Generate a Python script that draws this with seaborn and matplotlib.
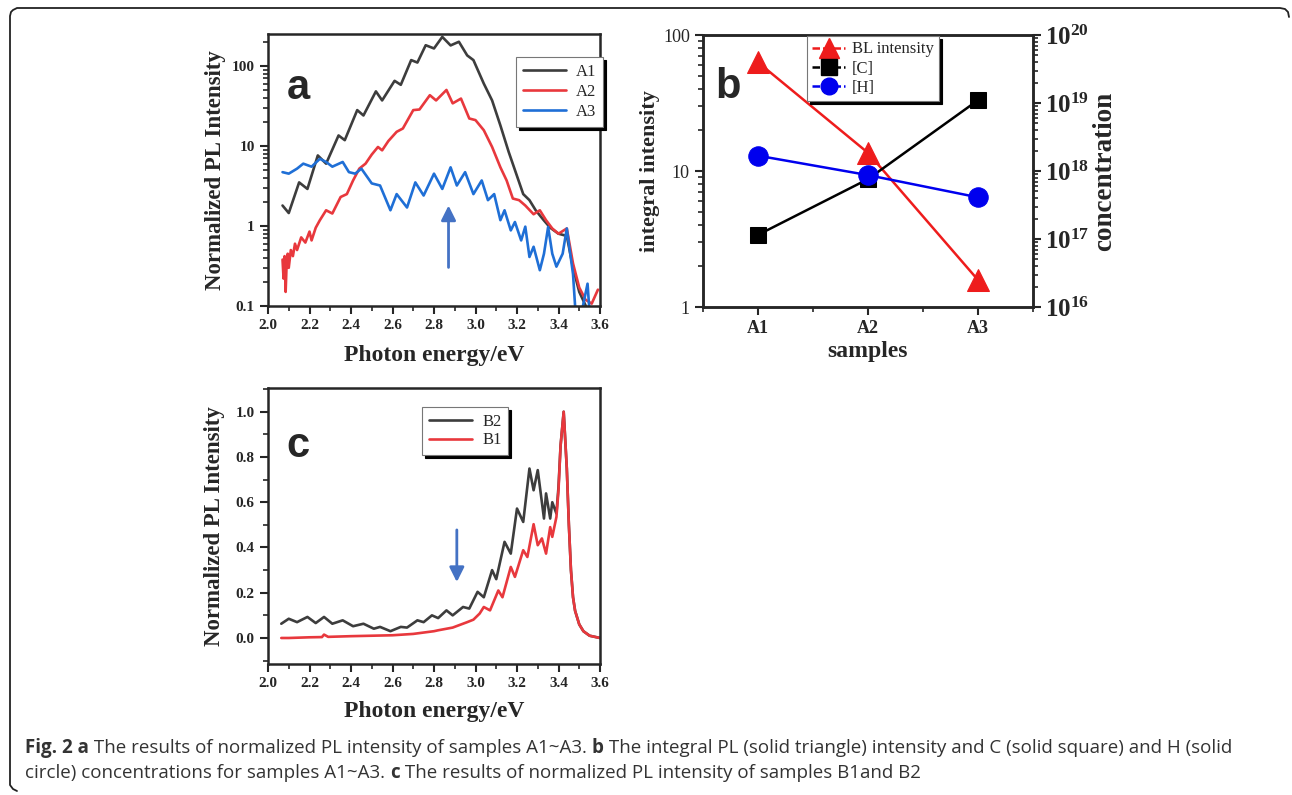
import matplotlib
matplotlib.use('Agg')
import numpy as np
import matplotlib.pyplot as plt
import seaborn as sns
from matplotlib.lines import Line2D
from matplotlib.ticker import MultipleLocator, LogLocator, NullFormatter

# ---- data ----
# panel a: normalized PL intensity (log scale)
a_e1 = [2.07, 2.10, 2.15, 2.19, 2.24, 2.28, 2.34, 2.37, 2.43, 2.46, 2.52, 2.55, 2.61, 2.64, 2.69, 2.72,
        2.76, 2.80, 2.84, 2.88, 2.92, 2.96, 2.99, 3.04, 3.08, 3.12, 3.16, 3.19, 3.23, 3.26, 3.29, 3.33,
        3.36, 3.40, 3.44, 3.47, 3.50, 3.54]
a_a1 = [1.8, 1.45, 3.5, 2.9, 7.6, 6.0, 13.5, 11.8, 28, 24, 48, 37, 65, 58, 118, 110,
        181, 165, 230, 180, 200, 135, 118, 60, 37, 18, 8.4, 5.0, 2.5, 2.1, 1.57, 1.17,
        0.95, 0.8, 0.75, 0.3, 0.15, 0.09]

a_e2 = [2.07, 2.075, 2.08, 2.085, 2.09, 2.095, 2.10, 2.11, 2.12, 2.13, 2.14, 2.16, 2.18, 2.20, 2.21,
        2.23, 2.25, 2.28, 2.31, 2.35, 2.38, 2.41, 2.44, 2.47, 2.50, 2.53, 2.55, 2.58, 2.62, 2.65,
        2.70, 2.73, 2.78, 2.81, 2.86, 2.89, 2.93, 2.97, 3.00, 3.04, 3.08, 3.12, 3.15, 3.18, 3.21,
        3.24, 3.28, 3.31, 3.34, 3.37, 3.40, 3.44, 3.47, 3.50, 3.53, 3.56, 3.59]
a_a2 = [0.38, 0.22, 0.42, 0.15, 0.35, 0.45, 0.3, 0.5, 0.42, 0.6, 0.5, 0.72, 0.62, 0.85, 0.66,
        0.95, 1.18, 1.57, 1.43, 2.3, 2.5, 3.7, 5.2, 6.0, 7.8, 9.7, 8.8, 11.5, 15, 16.5,
        28, 28.5, 43, 37, 50, 34, 39, 22, 21, 15.7, 9.7, 5.4, 3.7, 2.2, 2.1,
        1.8, 1.4, 1.57, 1.18, 0.93, 0.8, 0.93, 0.34, 0.17, 0.12, 0.107, 0.16]

a_e3 = [2.07, 2.10, 2.14, 2.17, 2.21, 2.25, 2.28, 2.31, 2.36, 2.39, 2.42, 2.45, 2.50, 2.54, 2.59,
        2.62, 2.67, 2.71, 2.75, 2.80, 2.84, 2.88, 2.91, 2.95, 2.99, 3.03, 3.06, 3.09, 3.12, 3.14,
        3.17, 3.19, 3.22, 3.24, 3.26, 3.28, 3.31, 3.33, 3.35, 3.37, 3.39, 3.42, 3.44, 3.47, 3.48,
        3.51, 3.54, 3.55]
a_a3 = [4.7, 4.5, 5.2, 6.0, 5.5, 6.9, 6.3, 5.5, 6.3, 4.7, 4.5, 5.2, 3.4, 3.2, 1.57,
        2.5, 1.7, 3.5, 2.4, 4.5, 2.9, 5.4, 3.2, 4.7, 2.5, 3.7, 2.1, 2.5, 1.18, 1.57,
        0.88, 1.12, 0.66, 0.98, 0.41, 0.55, 0.28, 0.45, 0.97, 0.45, 0.31, 0.45, 0.93, 0.25, 0.1,
        0.08, 0.19, 0.08]

# panel b: integral intensity and concentrations
samples = ['A1', 'A2', 'A3']
bl_intensity = [63, 13.6, 1.58]
conc_c = [1.15e17, 7.6e17, 1.1e19]
conc_h = [1.68e18, 8.7e17, 4.1e17]

# panel c: normalized PL intensity (linear)
c_e2 = [2.064, 2.10, 2.14, 2.19, 2.23, 2.27, 2.31, 2.36, 2.41, 2.46, 2.51, 2.54, 2.59, 2.64, 2.67,
        2.72, 2.75, 2.79, 2.82, 2.86, 2.89, 2.94, 2.97, 3.01, 3.04, 3.08, 3.10, 3.14, 3.17, 3.20,
        3.23, 3.26, 3.28, 3.30, 3.33, 3.34, 3.36, 3.37, 3.39, 3.40, 3.41, 3.425, 3.44, 3.45, 3.46,
        3.47, 3.48, 3.50, 3.52, 3.55, 3.60]
c_b2 = [0.063, 0.085, 0.07, 0.093, 0.066, 0.093, 0.063, 0.078, 0.052, 0.063, 0.041, 0.049, 0.03, 0.049, 0.046,
        0.078, 0.07, 0.10, 0.088, 0.122, 0.10, 0.137, 0.13, 0.204, 0.18, 0.30, 0.26, 0.425, 0.373, 0.572,
        0.513, 0.749, 0.653, 0.742, 0.528, 0.639, 0.528, 0.60, 0.55, 0.668, 0.85, 1.0, 0.75, 0.5, 0.3,
        0.18, 0.12, 0.06, 0.03, 0.01, 0.0]
c_e1 = [2.064, 2.10, 2.20, 2.26, 2.27, 2.29, 2.40, 2.50, 2.60, 2.70, 2.80, 2.82, 2.89, 2.96, 2.99,
        3.02, 3.04, 3.07, 3.11, 3.13, 3.17, 3.19, 3.23, 3.25, 3.28, 3.30, 3.32, 3.34, 3.36, 3.37,
        3.39, 3.40, 3.41, 3.425, 3.44, 3.45, 3.46, 3.47, 3.48, 3.50, 3.52, 3.55, 3.60]
c_b1 = [0.0, 0.0, 0.003, 0.004, 0.015, 0.005, 0.008, 0.01, 0.012, 0.018, 0.03, 0.034, 0.046, 0.07, 0.081,
        0.108, 0.137, 0.122, 0.21, 0.18, 0.314, 0.27, 0.388, 0.358, 0.503, 0.41, 0.44, 0.373, 0.49, 0.447,
        0.535, 0.653, 0.85, 1.0, 0.75, 0.5, 0.3, 0.18, 0.12, 0.06, 0.03, 0.01, 0.0]

# ---- style ----
sns.set_style('ticks')
plt.rcParams['font.family'] = ['Liberation Serif', 'DejaVu Serif']
plt.rcParams['axes.linewidth'] = 1.8

W, H = 1292, 795
fig = plt.figure(figsize=(W / 100, H / 100), dpi=100)


def box(x0, y0, x1, y1):
    # pixel box (top-left origin) -> figure fraction rect
    return [x0 / W, 1 - y1 / H, (x1 - x0) / W, (y1 - y0) / H]


def style_axis(ax):
    ax.tick_params(which='major', direction='out', length=6, width=1.5, top=False, right=False,
                   labelsize=11)
    ax.tick_params(which='minor', direction='out', length=3.5, width=1.2, top=False, right=False)
    for lab in ax.get_xticklabels() + ax.get_yticklabels():
        lab.set_fontweight('bold')


def shadow_legend(ax, **kw):
    leg = ax.legend(frameon=True, fancybox=False, framealpha=1, edgecolor='#777777',
                    shadow={'color': 'black', 'alpha': 1}, prop={'size': 12},
                    borderaxespad=0, handletextpad=0.6, **kw)
    leg.get_frame().set_linewidth(0.8)
    return leg


c_black = '#3d3d3d'
c_red = '#e8383d'
c_blue = '#1f6fd6'
c_arrow = '#4472c4'

# ---- panel a ----
ax_a = fig.add_axes(box(268, 34, 600, 306))
sns.lineplot(x=a_e1, y=a_a1, ax=ax_a, color=c_black, lw=1.9, sort=False, estimator=None, label='A1')
sns.lineplot(x=a_e2, y=a_a2, ax=ax_a, color=c_red, lw=1.9, sort=False, estimator=None, label='A2')
sns.lineplot(x=a_e3, y=a_a3, ax=ax_a, color=c_blue, lw=1.9, sort=False, estimator=None, label='A3')
ax_a.set_yscale('log')
ax_a.set_xlim(2.0, 3.6)
ax_a.set_ylim(0.1, 250)
ax_a.xaxis.set_major_locator(MultipleLocator(0.2))
ax_a.xaxis.set_minor_locator(MultipleLocator(0.1))
ax_a.set_yticks([0.1, 1, 10, 100], labels=['0.1', '1', '10', '100'])
ax_a.yaxis.set_minor_locator(LogLocator(base=10, subs=np.arange(2, 10)))
ax_a.yaxis.set_minor_formatter(NullFormatter())
style_axis(ax_a)
ax_a.set_xlabel('Photon energy/eV', fontsize=17, fontweight='bold')
ax_a.set_ylabel('Normalized PL Intensity', fontsize=16.5, fontweight='bold')
ax_a.xaxis.set_label_coords(0.5, -0.145)
ax_a.yaxis.set_label_coords(-0.125, 0.5)
shadow_legend(ax_a, loc='upper right', bbox_to_anchor=(1.01, 0.915), handlelength=2.6,
              labelspacing=0.25)
ax_a.annotate('', xy=(2.87, 1.95), xytext=(2.87, 0.28),
              arrowprops=dict(arrowstyle='-|>', color=c_arrow, lw=2, mutation_scale=22))
ax_a.text(0.09, 0.80, 'a', transform=ax_a.transAxes, fontsize=30, fontweight='bold',
          family='Liberation Sans', ha='center', va='center')

# ---- panel b ----
ax_b = fig.add_axes(box(703, 35, 1033, 307))
ax_b2 = ax_b.twinx()
sns.lineplot(x=samples, y=bl_intensity, ax=ax_b, color='#ee1c1c', lw=1.8, marker='^', markersize=16,
             markeredgecolor='#ee1c1c', sort=False, estimator=None)
sns.lineplot(x=samples, y=conc_c, ax=ax_b2, color='black', lw=1.8, marker='s', markersize=12,
             markeredgecolor='black', sort=False, estimator=None)
sns.lineplot(x=samples, y=conc_h, ax=ax_b2, color='#0000ee', lw=1.8, marker='o', markersize=14,
             markeredgecolor='#0000ee', sort=False, estimator=None)
ax_b.set_yscale('log')
ax_b2.set_yscale('log')
ax_b.set_xlim(-0.5, 2.5)
ax_b.set_ylim(1, 100)
ax_b2.set_ylim(1e16, 1e20)
ax_b.set_xticks([0, 1, 2], labels=samples)
ax_b.xaxis.set_minor_locator(MultipleLocator(0.5))
ax_b.set_yticks([1, 10, 100], labels=['1', '10', '100'])
ax_b.yaxis.set_minor_locator(LogLocator(base=10, subs=np.arange(2, 10)))
ax_b.yaxis.set_minor_formatter(NullFormatter())
ax_b.tick_params(which='major', direction='out', length=6, width=1.5, top=False, right=False)
ax_b.tick_params(which='minor', direction='out', length=3.5, width=1.2, top=False, right=False)
ax_b.tick_params(axis='y', labelsize=13)
ax_b.tick_params(axis='x', labelsize=13)
for lab in ax_b.get_xticklabels():
    lab.set_fontweight('bold')
ax_b2.set_yticks([1e16, 1e17, 1e18, 1e19, 1e20],
                 labels=[r'$\mathregular{10^{%d}}$' % p for p in range(16, 21)])
ax_b2.yaxis.set_minor_locator(LogLocator(base=10, subs=np.arange(2, 10)))
ax_b2.yaxis.set_minor_formatter(NullFormatter())
ax_b2.tick_params(which='major', direction='out', length=6, width=1.5, labelsize=18, pad=3)
ax_b2.tick_params(which='minor', direction='out', length=3.5, width=1.2)
for lab in ax_b2.get_yticklabels():
    lab.set_fontweight('bold')
ax_b.set_xlabel('samples', fontsize=17, fontweight='bold')
ax_b.set_ylabel('integral intensity', fontsize=16, fontweight='bold')
ax_b2.set_ylabel('concentration', fontsize=19.5, fontweight='bold')
ax_b.xaxis.set_label_coords(0.5, -0.125)
ax_b.yaxis.set_label_coords(-0.13, 0.5)
ax_b2.yaxis.set_label_coords(1.18, 0.5)
handles_b = [
    Line2D([], [], color='#ee1c1c', lw=1.8, ls=(0, (3, 1.2)), marker='^', markersize=14),
    Line2D([], [], color='black', lw=1.8, ls=(0, (3, 1.2)), marker='s', markersize=11),
    Line2D([], [], color='#0000ee', lw=1.8, ls=(0, (3, 1.2)), marker='o', markersize=12),
]
leg_b = ax_b2.legend(handles_b, ['BL intensity', '[C]', '[H]'], loc='upper left',
                     bbox_to_anchor=(0.315, 0.995), frameon=True, fancybox=False, framealpha=1,
                     edgecolor='#777777', shadow={'color': 'black', 'alpha': 1},
                     prop={'size': 12}, borderaxespad=0, handlelength=2.0, labelspacing=0.2,
                     handletextpad=0.4, borderpad=0.3)
leg_b.get_frame().set_linewidth(0.8)
ax_b.text(0.075, 0.81, 'b', transform=ax_b.transAxes, fontsize=30, fontweight='bold',
          family='Liberation Sans', ha='center', va='center')

# ---- panel c ----
ax_c = fig.add_axes(box(268, 388, 600, 664))
sns.lineplot(x=c_e2, y=c_b2, ax=ax_c, color=c_black, lw=1.9, sort=False, estimator=None, label='B2')
sns.lineplot(x=c_e1, y=c_b1, ax=ax_c, color=c_red, lw=1.9, sort=False, estimator=None, label='B1')
ax_c.set_xlim(2.0, 3.6)
ax_c.set_ylim(-0.115, 1.105)
ax_c.xaxis.set_major_locator(MultipleLocator(0.2))
ax_c.xaxis.set_minor_locator(MultipleLocator(0.1))
ax_c.set_yticks([0.0, 0.2, 0.4, 0.6, 0.8, 1.0], labels=['0.0', '0.2', '0.4', '0.6', '0.8', '1.0'])
ax_c.yaxis.set_minor_locator(MultipleLocator(0.1))
style_axis(ax_c)
ax_c.set_xlabel('Photon energy/eV', fontsize=17, fontweight='bold')
ax_c.set_ylabel('Normalized PL Intensity', fontsize=16.5, fontweight='bold')
ax_c.xaxis.set_label_coords(0.5, -0.135)
ax_c.yaxis.set_label_coords(-0.13, 0.5)
shadow_legend(ax_c, loc='upper left', bbox_to_anchor=(0.464, 0.93), handlelength=2.6,
              labelspacing=0.15)
ax_c.annotate('', xy=(2.91, 0.235), xytext=(2.91, 0.49),
              arrowprops=dict(arrowstyle='-|>', color=c_arrow, lw=2, mutation_scale=22))
ax_c.text(0.09, 0.79, 'c', transform=ax_c.transAxes, fontsize=30, fontweight='bold',
          family='Liberation Sans', ha='center', va='center')

# ---- outer frame (open rounded border) ----
frame_px = [(17, 791), (13, 789), (10, 785), (10, 16), (11, 12), (13, 10), (17, 8),
            (1280, 8), (1285, 9), (1288, 12), (1289, 17)]
fig.add_artist(Line2D([p[0] / W for p in frame_px], [1 - p[1] / H for p in frame_px],
                      transform=fig.transFigure, color='#222222', lw=1.3))

# ---- caption with mixed weights ----
renderer = fig.canvas.get_renderer()


def caption_line(parts, x_px, y_px, size):
    x = x_px / W
    for s, w in parts:
        t = fig.text(x, 1 - y_px / H, s, fontsize=size, fontweight=w, family='Open Sans',
                     color='#333333', va='center', ha='left')
        x += t.get_window_extent(renderer).width / W


cap_size = 13.5
caption_line([('Fig. 2 a', 'bold'),
              (' The results of normalized PL intensity of samples A1~A3. ', 'normal'),
              ('b', 'bold'),
              (' The integral PL (solid triangle) intensity and C (solid square) and H (solid', 'normal')],
             25, 748, cap_size)
caption_line([('circle) concentrations for samples A1~A3. ', 'normal'),
              ('c', 'bold'),
              (' The results of normalized PL intensity of samples B1and B2', 'normal')],
             25, 773, cap_size)

fig.savefig('out.png', dpi=100)
